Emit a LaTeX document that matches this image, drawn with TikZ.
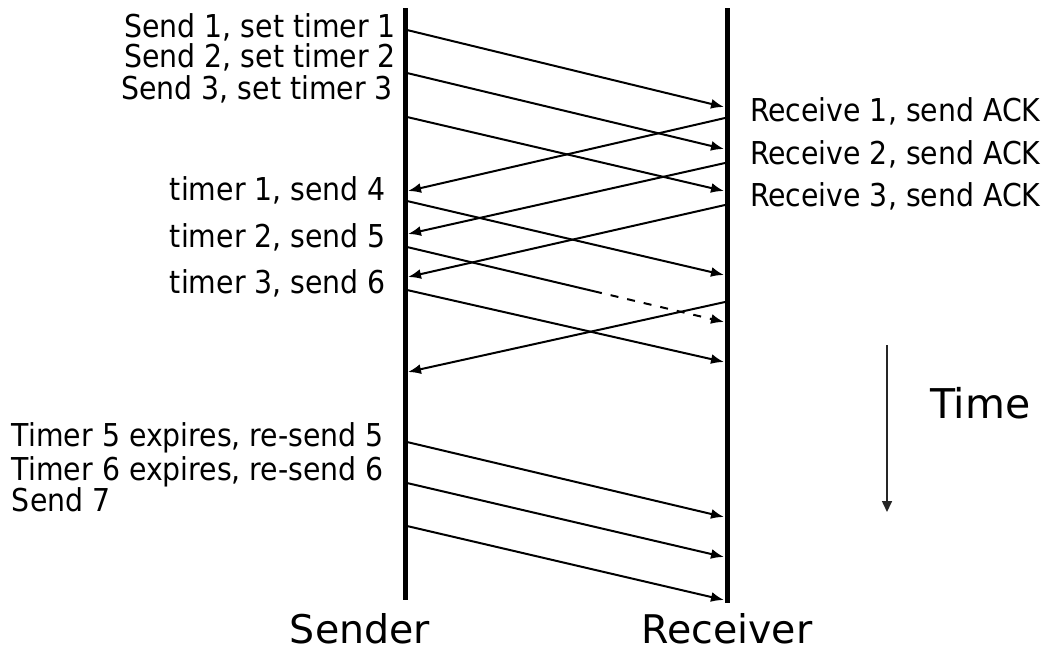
\documentclass[tikz,border=0pt]{standalone}
\usepackage{fontspec}
\setmainfont{DejaVu Sans}
\newfontfamily\lblfont[FakeStretch=0.9]{DejaVu Sans}
\usetikzlibrary{arrows.meta,calc}

\begin{document}
\begin{tikzpicture}[x=1pt,y=-1pt,
  lifeline/.style={line width=5pt},
  msg/.style={line width=2pt,-{Latex[length=13pt,width=10pt]}},
  lbl/.style={inner sep=0pt,outer sep=0pt,font=\lblfont\fontsize{31.5}{36}\selectfont},
  role/.style={inner sep=0pt,outer sep=0pt,font=\fontsize{39.5}{46}\selectfont}]
\useasboundingbox (0,0) rectangle (1043,653);

% lifelines
\coordinate (stop) at (405,8);  \coordinate (sbot) at (405,600);
\coordinate (rtop) at (727,8);  \coordinate (rbot) at (727,603);
\draw[lifeline] (stop) -- (sbot);
\draw[lifeline] (rtop) -- (rbot);

% packet and ACK end points
\coordinate (a1) at (407,30);   \coordinate (b1) at (724,107);
\coordinate (a2) at (407,73);   \coordinate (b2) at (724,149);
\coordinate (a3) at (407,117);  \coordinate (b3) at (724,191);
\coordinate (c1) at (725,118);  \coordinate (d1) at (408,191);
\coordinate (c2) at (725,163);  \coordinate (d2) at (408,234);
\coordinate (c3) at (725,205);  \coordinate (d3) at (408,277);
\coordinate (a4) at (407,201);  \coordinate (b4) at (724,275);
\coordinate (a5) at (407,247);  \coordinate (b5) at (724,322);
\coordinate (a6) at (407,290);  \coordinate (b6) at (724,362);
\coordinate (c4) at (725,302);  \coordinate (d4) at (408,372);
\coordinate (a7) at (407,442);  \coordinate (b7) at (724,517);
\coordinate (a8) at (407,483);  \coordinate (b8) at (724,557);
\coordinate (a9) at (407,526);  \coordinate (b9) at (724,600);

% packets 1-3 and their ACKs
\draw[msg] (a1) -- (b1);
\draw[msg] (a2) -- (b2);
\draw[msg] (a3) -- (b3);
\draw[msg] (c1) -- (d1);
\draw[msg] (c2) -- (d2);
\draw[msg] (c3) -- (d3);

% packets 4-6, packet 5 is lost on the way
\draw[msg] (a4) -- (b4);
\coordinate (lost) at ($(a5)!0.59!(b5)$);
\draw[line width=2pt] (a5) -- (lost);
\draw[msg,dash pattern=on 8pt off 9pt] (lost) -- (b5);
\draw[msg] (a6) -- (b6);
\draw[msg] (c4) -- (d4);

% retransmissions and packet 7
\draw[msg] (a7) -- (b7);
\draw[msg] (a8) -- (b8);
\draw[msg] (a9) -- (b9);

% sender side events
\node[lbl,anchor=base east] (l1) at (396,37)  {Send 1, set timer 1};
\node[lbl,anchor=base east] (l2) at (396,67)  {Send 2, set timer 2};
\node[lbl,anchor=base east] (l3) at (393,99)  {Send 3, set timer 3};
\node[lbl,anchor=base east] (l4) at (386,200) {timer 1, send 4};
\node[lbl,anchor=base east] (l5) at (386,247) {timer 2, send 5};
\node[lbl,anchor=base east] (l6) at (386,293) {timer 3, send 6};
\node[lbl,anchor=base west] (l7) at (12,446)  {Timer 5 expires, re-send 5};
\node[lbl,anchor=base west] (l8) at (12,480)  {Timer 6 expires, re-send 6};
\node[lbl,anchor=base west] (l9) at (12,511)  {Send 7};

% receiver side events
\node[lbl,anchor=base west] (m1) at (750,121) {Receive 1, send ACK};
\node[lbl,anchor=base west] (m2) at (750,164) {Receive 2, send ACK};
\node[lbl,anchor=base west] (m3) at (750,206) {Receive 3, send ACK};

% roles
\node[role,anchor=base] (snd) at (360,643) {Sender};
\node[role,anchor=base] (rcv) at (727,643) {Receiver};

% time axis
\coordinate (t1) at (887,345); \coordinate (t2) at (887,512);
\draw[line width=1.6pt,black!85,-{Triangle[length=11pt,width=10pt]}] (t1) -- (t2);
\node[inner sep=0pt,outer sep=0pt,anchor=base west,font=\fontsize{41}{48}\selectfont]
  (time) at (930,418) {Time};
\end{tikzpicture}
\end{document}
